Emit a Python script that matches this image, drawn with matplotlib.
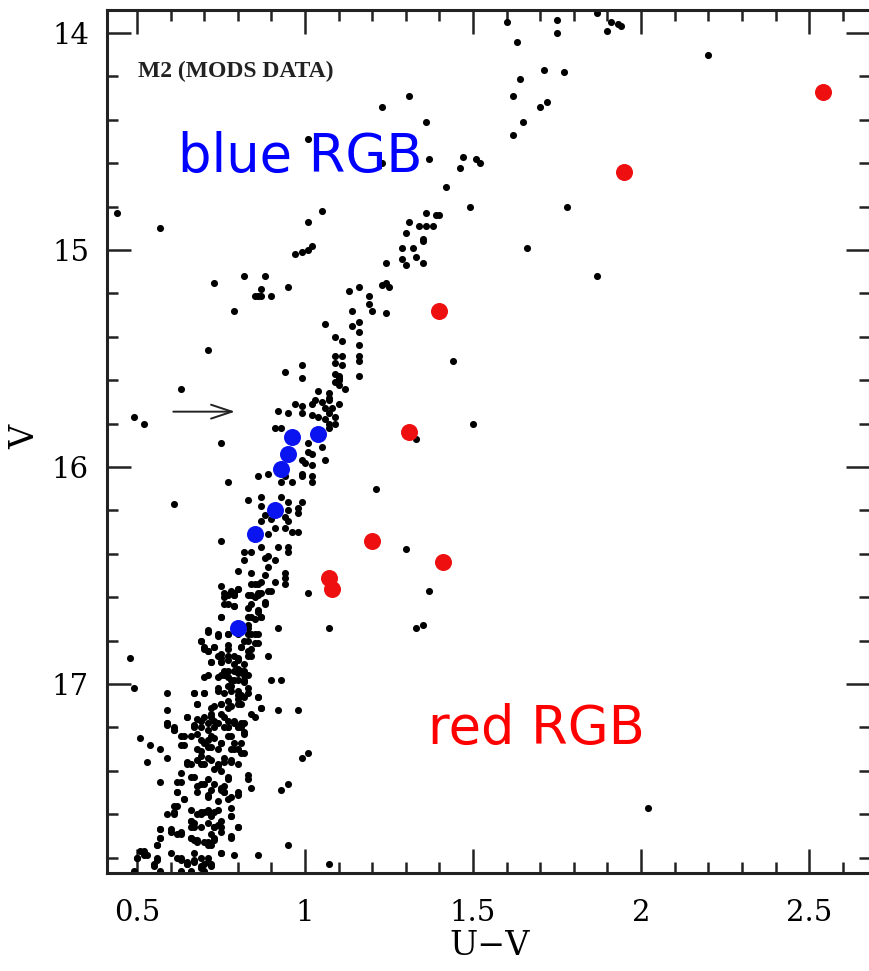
import numpy as np
import matplotlib
matplotlib.use('Agg')
import matplotlib.pyplot as plt
from matplotlib.ticker import MultipleLocator, FormatStrFormatter

# ── Data: (U-V, V) ──────────────────────────
all_stars = [
    # bright giants / AGB
    (1.60, 13.95), (1.63, 14.04), (1.64, 14.21), (1.71, 14.17), (1.62, 14.29), (1.70, 14.34),
    (1.72, 14.32), (1.65, 14.41), (1.62, 14.47), (1.75, 13.94), (1.75, 14.00), (1.87, 13.91),
    (1.91, 13.95), (1.93, 13.96), (1.94, 13.97), (1.90, 13.99), (1.77, 14.18), (2.20, 14.10),
    (1.78, 14.80), (1.87, 15.12), (1.23, 14.34), (1.31, 14.29), (1.36, 14.41), (1.01, 14.49),
    (1.37, 14.58), (1.23, 14.60), (1.47, 14.57), (1.46, 14.62), (1.51, 14.58), (1.52, 14.60),
    (1.42, 14.71), (1.49, 14.80), (1.66, 14.99), (0.44, 14.83), (0.57, 14.90), (1.05, 14.82),
    (1.01, 14.87), (1.02, 14.98), (1.01, 15.00), (0.99, 15.01), (0.97, 15.02),
    (1.36, 14.83), (1.39, 14.84), (1.40, 14.84), (1.31, 14.87), (1.34, 14.89), (1.36, 14.89),
    (1.38, 14.89), (1.30, 14.92), (1.35, 14.95), (1.35, 14.96), (1.29, 14.99), (1.32, 14.99),
    (1.29, 15.04), (1.30, 15.07), (1.33, 15.03), (1.35, 15.06), (1.24, 15.06),
    # horizontal branch-ish clump
    (0.73, 15.15), (0.82, 15.12), (0.88, 15.12), (0.87, 15.18), (0.95, 15.17), (0.85, 15.21),
    (0.86, 15.21), (0.87, 15.21), (0.90, 15.21),
    # RGB upper part
    (1.13, 15.19), (1.16, 15.17), (1.19, 15.21), (1.23, 15.16), (1.24, 15.15), (1.25, 15.17),
    (1.19, 15.25), (1.20, 15.28), (1.14, 15.28), (1.24, 15.29), (0.79, 15.28), (1.06, 15.34),
    (1.16, 15.33), (1.14, 15.35), (1.16, 15.38), (1.09, 15.40), (1.11, 15.42), (1.16, 15.44),
    (1.09, 15.49), (1.11, 15.49), (1.16, 15.49), (1.16, 15.51), (1.09, 15.52), (1.11, 15.53),
    (1.44, 15.51), (0.71, 15.46), (0.94, 15.56), (0.99, 15.53), (0.99, 15.59), (1.09, 15.57),
    (1.10, 15.59), (1.10, 15.58), (1.10, 15.60), (1.09, 15.61), (1.10, 15.62), (1.12, 15.64),
    (1.16, 15.58), (0.63, 15.64), (1.04, 15.65), (1.07, 15.66), (1.03, 15.69), (1.05, 15.70),
    (1.07, 15.69), (1.07, 15.68), (0.97, 15.71), (0.99, 15.72), (1.02, 15.71), (1.10, 15.71),
    (0.92, 15.74), (0.95, 15.75), (0.99, 15.75), (1.02, 15.76), (1.04, 15.77), (1.06, 15.73),
    (1.07, 15.75), (1.08, 15.73), (1.06, 15.78), (1.07, 15.80), (1.09, 15.77), (1.09, 15.80),
    (0.49, 15.77), (0.52, 15.80), (1.50, 15.80), (0.91, 15.82), (0.93, 15.82), (1.07, 15.82),
    (1.33, 15.87), (0.75, 15.89), (1.01, 15.89), (1.01, 15.93), (1.02, 15.94), (1.05, 15.91),
    (0.99, 15.97), (1.00, 15.98), (1.02, 15.99), (1.06, 15.97),
    # RGB middle
    (0.86, 16.04), (0.89, 16.03), (0.94, 16.04), (0.99, 16.03), (0.99, 16.04), (1.02, 16.04),
    (0.93, 16.07), (0.96, 16.07), (1.02, 16.07), (0.77, 16.07), (1.21, 16.10), (0.61, 16.17),
    (0.83, 16.15), (0.87, 16.14), (0.93, 16.14), (0.95, 16.16), (0.99, 16.16), (0.87, 16.18),
    (0.88, 16.22), (0.90, 16.20), (0.95, 16.20), (0.98, 16.21), (0.98, 16.19), (0.87, 16.25),
    (0.90, 16.24), (0.94, 16.23), (0.95, 16.25), (0.91, 16.28), (0.94, 16.28), (0.75, 16.34),
    (0.89, 16.31), (0.96, 16.30), (0.98, 16.30), (1.30, 16.38), (0.82, 16.39), (0.84, 16.39),
    (0.87, 16.37), (0.89, 16.41), (0.92, 16.37), (0.95, 16.37), (0.95, 16.39), (0.82, 16.43),
    (0.89, 16.46), (0.88, 16.42), (0.91, 16.43), (0.80, 16.48), (0.84, 16.49), (0.88, 16.50),
    (0.94, 16.49), (0.94, 16.51), (0.75, 16.55), (0.76, 16.58), (0.79, 16.58), (0.80, 16.56),
    (0.83, 16.59), (0.85, 16.54), (0.86, 16.58), (0.90, 16.57), (0.94, 16.54), (1.01, 16.58),
    (1.37, 16.57), (0.91, 16.53), (0.87, 16.53), (0.77, 16.59), (0.79, 16.59), (0.76, 16.63),
    (0.79, 16.64), (0.85, 16.60), (0.86, 16.59), (0.88, 16.63), (0.84, 16.63), (0.86, 16.66),
    (0.84, 16.69), (0.87, 16.69), (0.83, 16.73), (0.83, 16.74), (0.75, 16.69), (0.92, 16.74),
    (1.07, 16.74), (1.33, 16.74), (1.35, 16.73), (0.71, 16.76), (0.69, 16.80), (0.74, 16.78),
    (0.77, 16.77), (0.80, 16.77), (0.83, 16.77), (0.85, 16.77), (0.86, 16.81), (0.83, 16.80),
    (0.48, 16.88), (0.70, 16.83), (0.71, 16.85), (0.73, 16.83), (0.77, 16.82), (0.81, 16.83),
    (0.83, 16.87), (0.80, 16.88), (0.77, 16.87), (0.75, 16.88), (0.84, 16.84), (0.89, 16.87),
    (0.72, 16.90), (0.75, 16.90), (0.77, 16.94), (0.80, 16.93), (0.82, 16.94), (0.80, 16.95),
    # RGB lower part
    (0.70, 16.97), (0.74, 16.97), (0.76, 16.96), (0.79, 16.98), (0.82, 16.99), (0.83, 16.96),
    (0.49, 17.02), (0.59, 17.04), (0.67, 17.04), (0.70, 17.04), (0.74, 17.03), (0.77, 17.01),
    (0.78, 17.03), (0.80, 17.05), (0.82, 17.06), (0.83, 17.02), (0.68, 17.09), (0.72, 17.11),
    (0.75, 17.09), (0.77, 17.11), (0.80, 17.09), (0.86, 17.06), (0.90, 16.98), (0.93, 16.98),
    (0.59, 17.12), (0.87, 17.11), (0.92, 17.12), (0.98, 17.12), (0.59, 17.18), (0.61, 17.21),
    (0.65, 17.15), (0.67, 17.19), (0.69, 17.17), (0.71, 17.18), (0.72, 17.15), (0.74, 17.18),
    (0.76, 17.15), (0.77, 17.20), (0.79, 17.18), (0.80, 17.20), (0.82, 17.18), (0.82, 17.23),
    (0.85, 17.15), (0.51, 17.25), (0.54, 17.28), (0.57, 17.30), (0.59, 17.34), (0.63, 17.24),
    (0.64, 17.28), (0.68, 17.23), (0.69, 17.26), (0.71, 17.29), (0.72, 17.24), (0.74, 17.30),
    (0.75, 17.27), (0.78, 17.24), (0.79, 17.30), (0.81, 17.27), (0.82, 17.32), (0.53, 17.36),
    (0.63, 17.41), (0.65, 17.36), (0.68, 17.35), (0.70, 17.37), (0.72, 17.35), (0.74, 17.38),
    (0.76, 17.36), (0.78, 17.36), (0.80, 17.37), (0.99, 17.34), (1.01, 17.32), (0.95, 17.46),
    (0.93, 17.49), (0.84, 17.48), (0.83, 17.44), (0.83, 17.42), (0.57, 17.45), (0.63, 17.45),
    (0.66, 17.43), (0.69, 17.46), (0.71, 17.44), (0.73, 17.46), (0.75, 17.48), (0.77, 17.44),
    (0.80, 17.50), (0.62, 17.50), (0.64, 17.53), (0.68, 17.50), (0.71, 17.52), (0.74, 17.54),
    (0.76, 17.50), (0.77, 17.53), (0.62, 17.56), (0.61, 17.59), (0.66, 17.58), (0.69, 17.59),
    (0.71, 17.59), (0.72, 17.61), (0.74, 17.58), (0.78, 17.61), (0.57, 17.67), (0.60, 17.67),
    (0.63, 17.69), (0.66, 17.63), (0.67, 17.66), (0.69, 17.66), (0.71, 17.64), (0.73, 17.66),
    (0.75, 17.68), (0.80, 17.66), (0.57, 17.71), (0.56, 17.74), (0.66, 17.71), (0.68, 17.72),
    (0.71, 17.73), (0.73, 17.71), (0.78, 17.71), (0.95, 17.74), (0.51, 17.77), (0.52, 17.79),
    (0.50, 17.80), (0.56, 17.80), (0.55, 17.84), (0.63, 17.80), (0.65, 17.83), (0.67, 17.81),
    (0.69, 17.84), (0.72, 17.84), (0.75, 17.78), (0.79, 17.79), (0.86, 17.79), (0.49, 17.87),
    (0.57, 17.87), (0.63, 17.86), (0.66, 17.86), (0.70, 17.86), (1.07, 17.83), (2.02, 17.57),
]

# extra stars filling the crowded lower RGB (16.5 < V < 17.9)
crowded_rgb = [
    (0.78, 16.57), (0.80, 16.56), (0.84, 16.54), (0.86, 16.54), (0.89, 16.57), (0.76, 16.60),
    (0.79, 16.59), (0.84, 16.59), (0.87, 16.58), (0.88, 16.62), (0.77, 16.63), (0.79, 16.64),
    (0.83, 16.65), (0.86, 16.67), (0.75, 16.69), (0.83, 16.69), (0.85, 16.70), (0.87, 16.69),
    (0.71, 16.75), (0.74, 16.77), (0.77, 16.77), (0.82, 16.80), (0.84, 16.77), (0.86, 16.77),
    (0.85, 16.81), (0.69, 16.80), (0.70, 16.84), (0.71, 16.85), (0.73, 16.83), (0.74, 16.87),
    (0.75, 16.86), (0.77, 16.84), (0.79, 16.87), (0.81, 16.83), (0.83, 16.85), (0.84, 16.87),
    (0.72, 16.90), (0.75, 16.90), (0.77, 16.89), (0.79, 16.91), (0.80, 16.89), (0.82, 16.91),
    (0.76, 16.94), (0.79, 16.94), (0.81, 16.94), (0.82, 16.96), (0.71, 16.96), (0.75, 16.96),
    (0.77, 16.97), (0.78, 16.98), (0.80, 16.98), (0.82, 16.98), (0.67, 17.04), (0.70, 17.04),
    (0.74, 17.02), (0.76, 17.04), (0.78, 17.01), (0.80, 17.03), (0.81, 17.05), (0.83, 17.04),
    (0.86, 17.06), (0.68, 17.09), (0.73, 17.10), (0.75, 17.09), (0.77, 17.08), (0.78, 17.10),
    (0.80, 17.07), (0.81, 17.09), (0.65, 17.15), (0.68, 17.16), (0.70, 17.15), (0.72, 17.14),
    (0.73, 17.17), (0.75, 17.14), (0.77, 17.17), (0.79, 17.17), (0.81, 17.18), (0.59, 17.18),
    (0.61, 17.20), (0.84, 17.14), (0.87, 17.11), (0.59, 17.19), (0.61, 17.21), (0.64, 17.24),
    (0.66, 17.24), (0.67, 17.20), (0.69, 17.20), (0.71, 17.21), (0.73, 17.20), (0.76, 17.20),
    (0.77, 17.20), (0.80, 17.20), (0.81, 17.20), (0.82, 17.22), (0.63, 17.28), (0.68, 17.30),
    (0.69, 17.31), (0.70, 17.27), (0.71, 17.26), (0.72, 17.29), (0.73, 17.25), (0.75, 17.27),
    (0.77, 17.24), (0.79, 17.27), (0.80, 17.30), (0.81, 17.32), (0.78, 17.30), (0.76, 17.34),
    (0.78, 17.35), (0.71, 17.34), (0.69, 17.33), (0.69, 17.37), (0.62, 17.45), (0.65, 17.37),
    (0.66, 17.37), (0.67, 17.43), (0.68, 17.47), (0.70, 17.46), (0.71, 17.51), (0.72, 17.49),
    (0.73, 17.39), (0.74, 17.37), (0.75, 17.40), (0.77, 17.43), (0.80, 17.51), (0.78, 17.52),
    (0.76, 17.50), (0.75, 17.49), (0.76, 17.47), (0.64, 17.53), (0.62, 17.50), (0.59, 17.60),
    (0.61, 17.60), (0.61, 17.56), (0.68, 17.60), (0.69, 17.60), (0.70, 17.59), (0.71, 17.58),
    (0.72, 17.60), (0.73, 17.59), (0.75, 17.63), (0.78, 17.57), (0.78, 17.61), (0.80, 17.66),
    (0.78, 17.70), (0.75, 17.66), (0.74, 17.65), (0.73, 17.66), (0.72, 17.69), (0.67, 17.64),
    (0.66, 17.66), (0.66, 17.63), (0.57, 17.67), (0.57, 17.71), (0.60, 17.68), (0.62, 17.69),
    (0.63, 17.68), (0.66, 17.71), (0.67, 17.72), (0.68, 17.73), (0.70, 17.73), (0.71, 17.74),
    (0.73, 17.72), (0.72, 17.74), (0.56, 17.74), (0.52, 17.77), (0.53, 17.79), (0.50, 17.80),
    (0.56, 17.81), (0.55, 17.83), (0.57, 17.86), (0.60, 17.78), (0.62, 17.80), (0.63, 17.81),
    (0.65, 17.82), (0.65, 17.83), (0.67, 17.78), (0.67, 17.82), (0.69, 17.80), (0.71, 17.80),
    (0.71, 17.82), (0.70, 17.83), (0.69, 17.85), (0.72, 17.83), (0.75, 17.78), (0.49, 17.86),
]
rgb_uv, rgb_v = np.array(all_stars + crowded_rgb).T

blue_uv = [0.96, 1.04, 0.95, 0.93, 0.91, 0.85, 0.80]
blue_v  = [15.86, 15.85, 15.94, 16.01, 16.20, 16.31, 16.74]

red_uv = [2.54, 1.95, 1.40, 1.31, 1.20, 1.41, 1.07, 1.08]
red_v  = [14.27, 14.64, 15.28, 15.84, 16.34, 16.44, 16.51, 16.56]

# ── Figure ───────────────────────────────────────────────────
W, H = 869, 971
fig = plt.figure(figsize=(W / 100, H / 100), dpi=100)
ax = fig.add_axes([107 / W, 1 - 873 / H, 763 / W, 863 / H])

ax.scatter(rgb_uv, rgb_v, s=26, c='black', linewidths=0, zorder=2)
ax.scatter(blue_uv, blue_v, s=150, c='#0a14f0', linewidths=0, zorder=3)
ax.scatter(red_uv, red_v, s=150, c='#ee1010', linewidths=0, zorder=3)

ax.set_xlim(0.411, 2.681)
ax.set_ylim(17.871, 13.894)

ax.xaxis.set_major_locator(MultipleLocator(0.5))
ax.xaxis.set_minor_locator(MultipleLocator(0.1))
ax.yaxis.set_major_locator(MultipleLocator(1))
ax.yaxis.set_minor_locator(MultipleLocator(0.2))
ax.xaxis.set_major_formatter(FormatStrFormatter('%g'))
ax.yaxis.set_major_formatter(FormatStrFormatter('%g'))

ax.tick_params(which='both', direction='in', top=True, right=True, width=1.8, color='#222222')
ax.tick_params(which='major', length=17)
ax.tick_params(which='minor', length=8)
ax.tick_params(axis='x', which='major', pad=19, labelsize=21)
ax.tick_params(axis='y', which='major', pad=13, labelsize=21)
for lbl in ax.get_xticklabels() + ax.get_yticklabels():
    lbl.set_fontfamily('DejaVu Serif')
for sp in ax.spines.values():
    sp.set_linewidth(2.2)
    sp.set_color('#222222')

ax.set_xlabel('U\u2212V', fontsize=24, family='DejaVu Serif')
ax.set_ylabel('V', fontsize=24, family='DejaVu Serif')
ax.xaxis.set_label_coords(0.502, -0.066)
ax.yaxis.set_label_coords(-0.086, 0.505)

ax.text(0.503, 14.203, 'M2 (MODS DATA)', fontsize=17, fontweight='bold',
        family='Liberation Serif', color='#222222', ha='left', va='baseline')
ax.text(0.622, 14.64, 'blue RGB', fontsize=38, color='#0000ff', ha='left', va='baseline')
ax.text(1.366, 17.277, 'red RGB', fontsize=38, color='#ff0000', ha='left', va='baseline')

ax.annotate('', xy=(0.80, 15.745), xytext=(0.60, 15.745),
            arrowprops=dict(arrowstyle='->,head_length=1.5,head_width=0.5',
                            lw=1.4, color='#222222'))

plt.savefig('out.png', dpi=100)
